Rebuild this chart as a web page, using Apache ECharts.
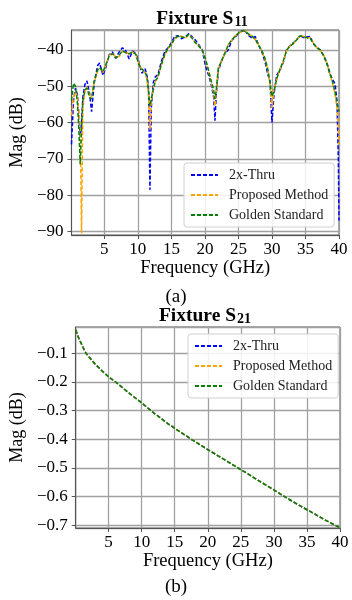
<!DOCTYPE html>
<html>
<head>
<meta charset="utf-8">
<script src="https://cdn.jsdelivr.net/npm/echarts@6/dist/echarts.min.js"></script>
<style>
  html, body { margin: 0; padding: 0; background: #fff; }
  #main { width: 352px; height: 600px; }
</style>
</head>
<body>
<div id="main"></div>
<script>
// S11 frequency points (GHz)
var s11Freq = [0.1, 0.4, 0.7, 1.0, 1.2, 1.4, 1.6, 1.8, 2.1, 2.4,
  2.8, 3.1, 3.5, 4.0, 4.3, 4.8, 5.2, 5.7, 6.2, 6.7,
  7.2, 7.7, 8.2, 8.7, 9.2, 9.7, 10.1, 10.6, 11.1, 11.4,
  11.6, 11.8, 12.0, 12.3, 12.6, 13.0, 13.5, 14.0, 14.5, 15.0,
  15.5, 16.0, 16.5, 17.0, 17.6, 18.1, 18.6, 19.1, 19.6, 20.1,
  20.6, 21.0, 21.3, 21.5, 21.7, 22.0, 22.5, 23.0, 23.5, 24.0,
  24.5, 25.0, 25.5, 26.0, 26.5, 27.0, 27.5, 28.0, 28.5, 29.0,
  29.4, 29.7, 30.0, 30.3, 30.7, 31.2, 31.7, 32.2, 32.7, 33.2,
  33.7, 34.2, 34.7, 35.2, 35.7, 36.2, 36.7, 37.2, 37.7, 38.2,
  38.6, 39.0, 39.4, 39.7, 39.9, 40.0];

// 2x-Thru
var s11Thru = [-66, -54, -50.5, -52.5, -58, -64, -60, -53, -49.5, -48.5,
  -52, -57, -49, -44.3, -43.6, -47, -45, -41.4, -40.5, -42.3,
  -40.6, -39.4, -40.2, -42.5, -40.3, -41, -43, -46.4, -45.2, -47.5,
  -51, -78.5, -56, -49, -47.4, -46.8, -43.2, -40.5, -39.4, -38,
  -36.2, -36.1, -36.9, -36.5, -35.5, -36.4, -37.3, -38.6, -40, -44.5,
  -47.2, -50, -53, -59.5, -52, -45.8, -43, -40.8, -40, -37.4,
  -36.5, -35.4, -34.8, -34.7, -36, -36.7, -36.3, -38.6, -40.6, -43.5,
  -46.9, -48.4, -60, -52.3, -47, -45.5, -43.4, -39.9, -38.8, -38,
  -37.2, -36, -36.6, -36.4, -36.3, -38.3, -39.4, -40, -41.6, -43.8,
  -46.5, -48, -49.3, -54, -70, -87];

// Proposed Method
var s11Proposed = [-58, -53, -51.5, -53, -57, -61, -90.5, -56, -51.5, -50.2,
  -52.5, -53, -48.8, -45.8, -45, -46.3, -44.4, -41.6, -40.8, -42,
  -41.8, -40.4, -40.6, -41.2, -40.5, -41.4, -43.5, -45.5, -46.3, -48.5,
  -53, -62, -54, -50.5, -48.8, -47.2, -44.3, -41.5, -39.7, -38.3,
  -37, -36.3, -36.2, -36.8, -35.9, -36.6, -38.2, -38.8, -40.2, -42.8,
  -46.3, -49.5, -52, -55.5, -51.5, -45.3, -42.8, -41, -38.4, -37.4,
  -36.1, -35.5, -34.9, -34.6, -35.8, -36, -37.2, -38.5, -40.4, -42.8,
  -45.8, -49.5, -56, -51, -48.3, -45.2, -43.2, -40.2, -38.8, -38.4,
  -37, -36.3, -36.2, -36.8, -36.6, -38.1, -39.5, -40.2, -41.3, -43.8,
  -46.3, -49, -52, -56, -61, -66];

// Golden Standard
var s11Golden = [-54, -49.2, -50, -55, -62, -71.5, -62, -54, -51, -50.5,
  -53, -53.5, -48.5, -45.5, -44.8, -46, -44.2, -41.8, -41, -42.2,
  -41.5, -40.2, -40.8, -41, -40.6, -41.2, -43.8, -45.3, -46, -48,
  -51.5, -55.5, -53.5, -51, -48.5, -47.5, -44, -41.3, -39.5, -38.5,
  -36.8, -36.1, -36.4, -36.6, -35.7, -36.8, -38, -39, -40, -42.5,
  -46, -49, -51, -53.5, -51, -45, -43, -40.8, -38.6, -37.2,
  -36.3, -35.3, -34.8, -34.8, -35.6, -36.2, -37, -38.7, -40.2, -42.5,
  -45.5, -49, -52.8, -51.5, -48, -45.4, -43, -40, -39, -38.2,
  -37.2, -36.1, -36.4, -36.6, -36.8, -38.3, -39.3, -40, -41.5, -43.5,
  -46, -48.5, -51.5, -54.5, -56, -57];

// S21
var s21Freq = [0.03, 0.3, 0.6, 1.0, 1.3, 1.6, 2, 3, 4, 5, 6.1, 7, 8, 9, 10, 11.4, 12, 14,
  16, 17.5, 20, 22, 24, 26, 28, 30, 32, 34, 36, 38, 40];
var s21Thru = [-0.018, -0.036, -0.053, -0.072, -0.087, -0.100, -0.112, -0.138, -0.161, -0.182, -0.201, -0.218,
  -0.237, -0.255, -0.273, -0.300, -0.311, -0.346, -0.377, -0.400, -0.436, -0.464, -0.492,
  -0.520, -0.549, -0.577, -0.606, -0.633, -0.659, -0.685, -0.709];
var s21Proposed = [-0.018, -0.036, -0.053, -0.072, -0.087, -0.100, -0.112, -0.138, -0.161, -0.182, -0.201, -0.218,
  -0.237, -0.255, -0.273, -0.300, -0.311, -0.346, -0.377, -0.400, -0.436, -0.464, -0.492,
  -0.520, -0.549, -0.577, -0.606, -0.633, -0.659, -0.685, -0.709];
var s21Golden = [-0.018, -0.036, -0.053, -0.072, -0.087, -0.100, -0.112, -0.138, -0.161, -0.182, -0.201, -0.218,
  -0.237, -0.255, -0.273, -0.300, -0.311, -0.346, -0.377, -0.400, -0.436, -0.464, -0.492,
  -0.520, -0.549, -0.577, -0.606, -0.633, -0.659, -0.685, -0.709];

var names = ['2x-Thru', 'Proposed Method', 'Golden Standard'];
var colors = ['#0000ff', '#ffa500', '#008000'];

function pairs(xs, ys) {
  var out = [];
  for (var i = 0; i < xs.length; i++) out.push([xs[i], ys[i]]);
  return out;
}

var FONT = '"Liberation Serif", "Times New Roman", serif';

function minus(v) {
  return String(v).replace('-', '\u2212');
}

function xAxisOf(gi, min) {
  return {
    type: 'value', gridIndex: gi, min: min, max: 40, splitNumber: 8,
    name: 'Frequency (GHz)', nameLocation: 'middle', nameGap: 22,
    nameTextStyle: { fontFamily: FONT, fontSize: 18.5, color: '#000' },
    axisLine: { show: true, lineStyle: { color: '#555', width: 1 } },
    axisTick: { show: true, length: 4, lineStyle: { color: '#555' } },
    axisLabel: { showMinLabel: false, fontFamily: FONT, fontSize: 17, color: '#000', margin: 6 },
    splitLine: { show: true, lineStyle: { color: '#a0a0a0', width: 1.3 } }
  };
}

function yAxisOf(gi, min, max, split, gap) {
  return {
    type: 'value', gridIndex: gi, min: min, max: max, splitNumber: split,
    name: 'Mag (dB)', nameLocation: 'middle', nameGap: gap, nameRotate: 90,
    nameTextStyle: { fontFamily: FONT, fontSize: 18, color: '#000' },
    axisLine: { show: true, lineStyle: { color: '#555', width: 1 } },
    axisTick: { show: true, length: 4, lineStyle: { color: '#555' } },
    axisLabel: {
      showMinLabel: false, showMaxLabel: false,
      fontFamily: FONT, fontSize: 17, color: '#000', margin: 8,
      formatter: minus
    },
    splitLine: { show: true, lineStyle: { color: '#a0a0a0', width: 1.3 } }
  };
}

function legendOf(left, top) {
  return {
    data: names, orient: 'vertical', left: left, top: top,
    itemWidth: 27, itemHeight: 14, itemGap: 6,
    padding: [5, 6, 5, 6],
    backgroundColor: 'rgba(255,255,255,0.85)',
    borderColor: '#d0d0d0', borderWidth: 1, borderRadius: 3,
    itemStyle: { opacity: 0 },
    textStyle: { fontFamily: FONT, fontSize: 14, color: '#222', padding: [0, 0, 0, 6] }
  };
}

function lineOf(i, gi, xs, ys) {
  return {
    name: names[i], type: 'line', xAxisIndex: gi, yAxisIndex: gi,
    data: pairs(xs, ys), symbol: 'none', showSymbol: false,
    color: colors[i],
    lineStyle: { color: colors[i], width: 1.5, type: [4, 2] },
    z: 2 + i
  };
}

function titleText(x, y, sub) {
  return {
    type: 'text', x: x, y: y,
    style: {
      text: '{a|Fixture S}{b|' + sub + '}',
      align: 'center', verticalAlign: 'middle',
      rich: {
        a: { fontFamily: FONT, fontSize: 19.5, fontWeight: 'bold', lineHeight: 21, verticalAlign: 'top', fill: '#000' },
        b: { fontFamily: FONT, fontSize: 14, fontWeight: 'bold', lineHeight: 14, padding: [12, 0, 0, 1], verticalAlign: 'bottom', fill: '#000' }
      }
    }
  };
}

var chart = echarts.init(document.getElementById('main'));
chart.setOption({
  animation: false,
  backgroundColor: '#fff',
  grid: [
    { left: 65, right: 13, top: 30, height: 205, show: true, borderColor: '#555', borderWidth: 1 },
    { left: 70, right: 12, top: 327, height: 201, show: true, borderColor: '#555', borderWidth: 1 }
  ],
  xAxis: [xAxisOf(0, 0.1), xAxisOf(1, 0.03)],
  yAxis: [yAxisOf(0, -91, -34.5, 5, 40), yAxisOf(1, -0.71, -0.008, 7, 41)],
  legend: [legendOf(184, 163), legendOf(188, 334)],
  series: [
    lineOf(0, 0, s11Freq, s11Thru),
    lineOf(1, 0, s11Freq, s11Proposed),
    lineOf(2, 0, s11Freq, s11Golden),
    lineOf(0, 1, s21Freq, s21Thru),
    lineOf(1, 1, s21Freq, s21Proposed),
    lineOf(2, 1, s21Freq, s21Golden)
  ],
  graphic: [
    titleText(202, 19, '11'),
    titleText(205, 316, '21'),
    { type: 'text', x: 176, y: 297, style: { text: '(a)', font: '19px ' + FONT, fill: '#000', align: 'center', verticalAlign: 'middle' } },
    { type: 'text', x: 176, y: 587, style: { text: '(b)', font: '19px ' + FONT, fill: '#000', align: 'center', verticalAlign: 'middle' } }
  ]
});
</script>
</body>
</html>
